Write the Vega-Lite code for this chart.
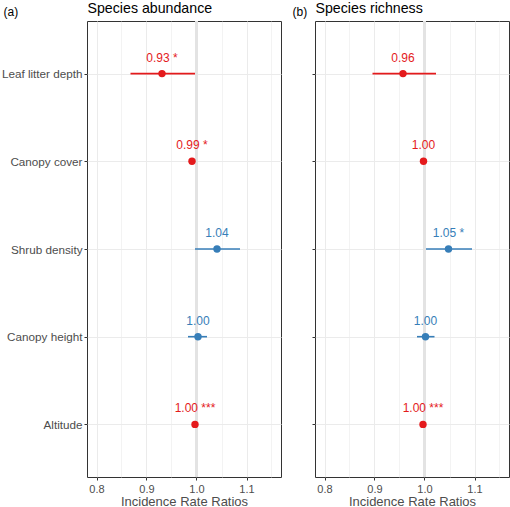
{
  "$schema": "https://vega.github.io/schema/vega-lite/v6.json",
  "padding": 0,
  "background": "white",
  "config": {
    "font": "Liberation Sans",
    "view": {"stroke": "#333333", "strokeWidth": 1},
    "axis": {"labelFont": "Liberation Sans", "titleFont": "Liberation Sans"}
  },
  "data": {
    "values": [
      {"panel": "abundance", "variable": "Leaf litter depth", "est": 0.931, "lo": 0.868, "hi": 0.997, "dir": "neg", "label": "0.93 *"},
      {"panel": "abundance", "variable": "Canopy cover", "est": 0.991, "lo": 0.988, "hi": 0.994, "dir": "neg", "label": "0.99 *"},
      {"panel": "abundance", "variable": "Shrub density", "est": 1.041, "lo": 0.997, "hi": 1.087, "dir": "pos", "label": "1.04"},
      {"panel": "abundance", "variable": "Canopy height", "est": 1.003, "lo": 0.983, "hi": 1.021, "dir": "pos", "label": "1.00"},
      {"panel": "abundance", "variable": "Altitude", "est": 0.997, "lo": 0.996, "hi": 0.998, "dir": "neg", "label": "1.00 ***"},
      {"panel": "richness", "variable": "Leaf litter depth", "est": 0.957, "lo": 0.896, "hi": 1.023, "dir": "neg", "label": "0.96"},
      {"panel": "richness", "variable": "Canopy cover", "est": 0.998, "lo": 0.995, "hi": 1.001, "dir": "neg", "label": "1.00"},
      {"panel": "richness", "variable": "Shrub density", "est": 1.048, "lo": 1.003, "hi": 1.095, "dir": "pos", "label": "1.05 *"},
      {"panel": "richness", "variable": "Canopy height", "est": 1.002, "lo": 0.985, "hi": 1.020, "dir": "pos", "label": "1.00"},
      {"panel": "richness", "variable": "Altitude", "est": 0.997, "lo": 0.996, "hi": 0.998, "dir": "neg", "label": "1.00 ***"}
    ]
  },
  "spacing": 34,
  "bounds": "flush",
  "hconcat": [
    {
      "width": 194,
      "height": 456,
      "transform": [{"filter": "datum.panel === 'abundance'"}],
      "resolve": {"axis": {"x": "independent"}},
      "layer": [
        {
          "mark": {"type": "rule", "color": "#E3E3E3", "strokeWidth": 2.2},
          "encoding": {
            "x": {"datum": 1, "type": "quantitative",
              "scale": {"domain": [0.781, 1.169], "nice": false, "zero": false},
              "axis": {"orient": "top", "grid": false, "ticks": false, "labels": false, "domain": false,
                "title": "Species abundance", "titleAnchor": "start", "titleFontSize": 14.2, "titleFontWeight": "normal", "titleColor": "#000000", "titlePadding": 6}
            }
          }
        },
        {
          "mark": {"type": "rule", "strokeWidth": 1.6},
          "encoding": {
            "x": {"field": "lo", "type": "quantitative",
              "axis": {
                "values": [0.8, 0.85, 0.9, 0.95, 1.0, 1.05, 1.1, 1.15],
                "labelExpr": "indexof([0.85, 0.95, 1.05, 1.15], datum.value) >= 0 ? '' : format(datum.value, '.1f')",
                "tickOpacity": {"condition": {"test": "indexof([0.85, 0.95, 1.05, 1.15], datum.value) >= 0", "value": 0}, "value": 1},
                "gridWidth": {"condition": {"test": "indexof([0.85, 0.95, 1.05, 1.15], datum.value) >= 0", "value": 0.6}, "value": 1},
                "grid": true, "gridColor": "#EBEBEB", "domain": false,
                "tickColor": "#333333", "tickSize": 3,
                "labelFontSize": 11, "labelColor": "#4D4D4D", "labelPadding": 3,
                "title": "Incidence Rate Ratios", "titleFontSize": 13, "titleFontWeight": "normal", "titleColor": "#4D4D4D", "titlePadding": 1
              }
            },
            "x2": {"field": "hi"},
            "y": {"field": "variable", "type": "ordinal",
              "scale": {"type": "point", "padding": 0.6, "domain": ["Leaf litter depth", "Canopy cover", "Shrub density", "Canopy height", "Altitude"]},
              "axis": {
                "grid": true, "gridColor": "#EBEBEB", "gridWidth": 1, "domain": false,
                "tickColor": "#333333", "tickSize": 3,
                "labelFontSize": 11.7, "labelColor": "#4D4D4D", "labelPadding": 2,
                "title": "(a)", "titleAngle": 0, "titleX": -84, "titleY": -10, "titleAlign": "left", "titleBaseline": "middle",
                "titleFontSize": 12, "titleFontWeight": "normal", "titleColor": "#000000"
              }
            },
            "color": {"field": "dir", "type": "nominal", "scale": {"domain": ["neg", "pos"], "range": ["#E41A1C", "#377EB8"]}, "legend": null}
          }
        },
        {
          "mark": {"type": "point", "filled": true, "size": 55, "opacity": 1},
          "encoding": {
            "x": {"field": "est", "type": "quantitative", "axis": null},
            "y": {"field": "variable", "type": "ordinal"},
            "color": {"field": "dir", "type": "nominal", "legend": null}
          }
        },
        {
          "mark": {"type": "text", "dy": -16, "fontSize": 12},
          "encoding": {
            "x": {"field": "est", "type": "quantitative", "axis": null},
            "y": {"field": "variable", "type": "ordinal"},
            "text": {"field": "label"},
            "color": {"field": "dir", "type": "nominal", "legend": null}
          }
        }
      ]
    },
    {
      "width": 194,
      "height": 456,
      "transform": [{"filter": "datum.panel === 'richness'"}],
      "resolve": {"axis": {"x": "independent"}},
      "layer": [
        {
          "mark": {"type": "rule", "color": "#E3E3E3", "strokeWidth": 2.2},
          "encoding": {
            "x": {"datum": 1, "type": "quantitative",
              "scale": {"domain": [0.781, 1.169], "nice": false, "zero": false},
              "axis": {"orient": "top", "grid": false, "ticks": false, "labels": false, "domain": false,
                "title": "Species richness", "titleAnchor": "start", "titleFontSize": 14.2, "titleFontWeight": "normal", "titleColor": "#000000", "titlePadding": 6}
            }
          }
        },
        {
          "mark": {"type": "rule", "strokeWidth": 1.6},
          "encoding": {
            "x": {"field": "lo", "type": "quantitative",
              "axis": {
                "values": [0.8, 0.85, 0.9, 0.95, 1.0, 1.05, 1.1, 1.15],
                "labelExpr": "indexof([0.85, 0.95, 1.05, 1.15], datum.value) >= 0 ? '' : format(datum.value, '.1f')",
                "tickOpacity": {"condition": {"test": "indexof([0.85, 0.95, 1.05, 1.15], datum.value) >= 0", "value": 0}, "value": 1},
                "gridWidth": {"condition": {"test": "indexof([0.85, 0.95, 1.05, 1.15], datum.value) >= 0", "value": 0.6}, "value": 1},
                "grid": true, "gridColor": "#EBEBEB", "domain": false,
                "tickColor": "#333333", "tickSize": 3,
                "labelFontSize": 11, "labelColor": "#4D4D4D", "labelPadding": 3,
                "title": "Incidence Rate Ratios", "titleFontSize": 13, "titleFontWeight": "normal", "titleColor": "#4D4D4D", "titlePadding": 1
              }
            },
            "x2": {"field": "hi"},
            "y": {"field": "variable", "type": "ordinal",
              "scale": {"type": "point", "padding": 0.6, "domain": ["Leaf litter depth", "Canopy cover", "Shrub density", "Canopy height", "Altitude"]},
              "axis": {
                "grid": true, "gridColor": "#EBEBEB", "gridWidth": 1, "domain": false,
                "tickColor": "#333333", "tickSize": 3, "labels": false,
                "title": "(b)", "titleAngle": 0, "titleX": -23, "titleY": -10, "titleAlign": "left", "titleBaseline": "middle",
                "titleFontSize": 12, "titleFontWeight": "normal", "titleColor": "#000000"
              }
            },
            "color": {"field": "dir", "type": "nominal", "scale": {"domain": ["neg", "pos"], "range": ["#E41A1C", "#377EB8"]}, "legend": null}
          }
        },
        {
          "mark": {"type": "point", "filled": true, "size": 55, "opacity": 1},
          "encoding": {
            "x": {"field": "est", "type": "quantitative", "axis": null},
            "y": {"field": "variable", "type": "ordinal"},
            "color": {"field": "dir", "type": "nominal", "legend": null}
          }
        },
        {
          "mark": {"type": "text", "dy": -16, "fontSize": 12},
          "encoding": {
            "x": {"field": "est", "type": "quantitative", "axis": null},
            "y": {"field": "variable", "type": "ordinal"},
            "text": {"field": "label"},
            "color": {"field": "dir", "type": "nominal", "legend": null}
          }
        }
      ]
    }
  ]
}
